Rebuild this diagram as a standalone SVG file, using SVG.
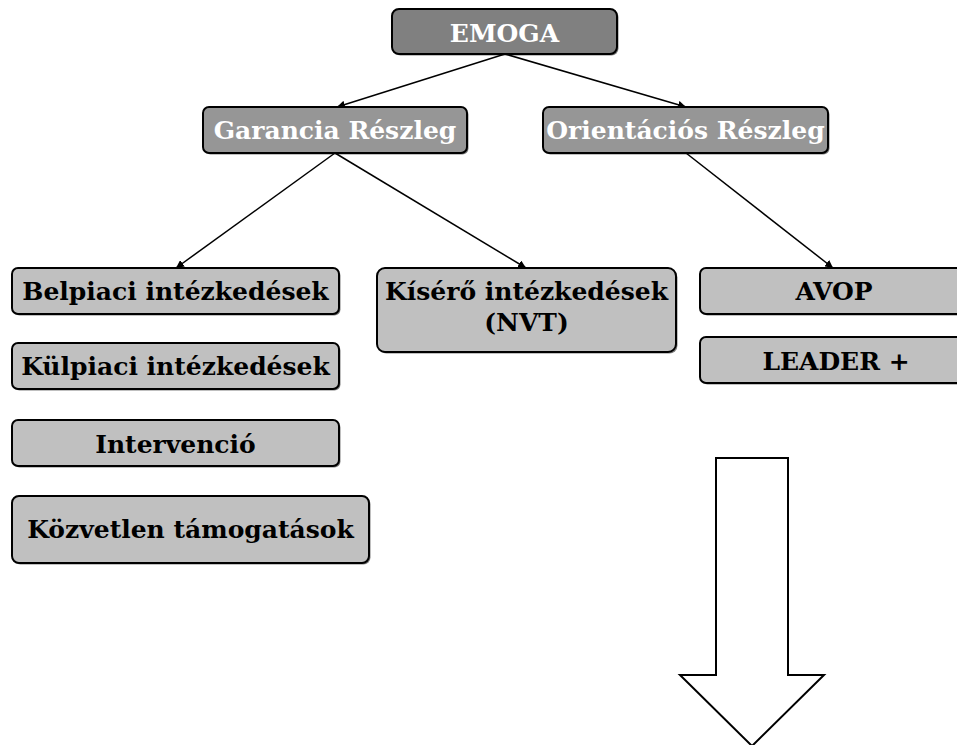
<svg xmlns="http://www.w3.org/2000/svg" width="957" height="745" viewBox="0 0 957 745">
  <style>
    .box { stroke: #000; stroke-width: 2; }
    .top { fill: #808080; }
    .mid { fill: #969696; }
    .leaf { fill: #c0c0c0; }
    .shadow { fill: #000; opacity: 0.5; }
    text { font-family: "DejaVu Serif", "Liberation Serif", serif; font-weight: bold; font-size: 25px; text-anchor: middle; }
    .light { fill: #fff; }
    .dark { fill: #000; }
    .edge { stroke: #000; stroke-width: 1.5; fill: none; marker-end: url(#tip); }
  </style>
  <defs>
    <marker id="tip" viewBox="0 0 10 10" refX="10" refY="5" markerWidth="8" markerHeight="8" markerUnits="userSpaceOnUse" orient="auto">
      <path d="M0,0 L10,5 L0,10 z" fill="#000"/>
    </marker>
  </defs>
  <rect width="957" height="745" fill="#fff"/>

  <g id="connectors">
    <line class="edge" x1="505" y1="54" x2="337" y2="107"/>
    <line class="edge" x1="505" y1="54" x2="686" y2="107"/>
    <line class="edge" x1="335" y1="153" x2="176" y2="268"/>
    <line class="edge" x1="335" y1="153" x2="526" y2="268"/>
    <line class="edge" x1="686" y1="153" x2="833" y2="268"/>
  </g>

  <g id="emoga">
    <rect class="shadow" x="393.5" y="10.5" width="225" height="45" rx="7"/>
    <rect class="box top" x="392" y="9" width="225" height="45" rx="7"/>
    <text class="light" x="504.5" y="42">EMOGA</text>
  </g>
  <g id="garancia">
    <rect class="shadow" x="204.5" y="108.5" width="264" height="46" rx="6"/>
    <rect class="box mid" x="203" y="107" width="264" height="46" rx="6"/>
    <text class="light" x="335" y="139">Garancia Részleg</text>
  </g>
  <g id="orientacios">
    <rect class="shadow" x="544.5" y="108.5" width="285" height="46" rx="6"/>
    <rect class="box mid" x="543" y="107" width="285" height="46" rx="6"/>
    <text class="light" x="685.5" y="139">Orientációs Részleg</text>
  </g>

  <g id="belpiaci">
    <rect class="shadow" x="13.5" y="269.5" width="327" height="46" rx="6"/>
    <rect class="box leaf" x="12" y="268" width="327" height="46" rx="6"/>
    <text class="dark" x="175.5" y="300">Belpiaci intézkedések</text>
  </g>
  <g id="kulpiaci">
    <rect class="shadow" x="13.5" y="344.5" width="327" height="46" rx="6"/>
    <rect class="box leaf" x="12" y="343" width="327" height="46" rx="6"/>
    <text class="dark" x="175.5" y="375">Külpiaci intézkedések</text>
  </g>
  <g id="intervencio">
    <rect class="shadow" x="13.5" y="421.5" width="327" height="46" rx="6"/>
    <rect class="box leaf" x="12" y="420" width="327" height="46" rx="6"/>
    <text class="dark" x="175.5" y="453">Intervenció</text>
  </g>
  <g id="kozvetlen">
    <rect class="shadow" x="13.5" y="497.5" width="357" height="67" rx="7"/>
    <rect class="box leaf" x="12" y="496" width="357" height="67" rx="7"/>
    <text class="dark" x="190.5" y="538">Közvetlen támogatások</text>
  </g>
  <g id="kisero">
    <rect class="shadow" x="378.5" y="269.5" width="299" height="84" rx="8"/>
    <rect class="box leaf" x="377" y="268" width="299" height="84" rx="8"/>
    <text class="dark" x="526.5" y="300">Kísérő intézkedések</text>
    <text class="dark" x="526.5" y="331">(NVT)</text>
  </g>
  <g id="avop">
    <rect class="shadow" x="701.5" y="269.5" width="270" height="46" rx="6"/>
    <rect class="box leaf" x="700" y="268" width="270" height="46" rx="6"/>
    <text class="dark" x="834" y="300">AVOP</text>
  </g>
  <g id="leader">
    <rect class="shadow" x="701.5" y="338.5" width="270" height="46" rx="6"/>
    <rect class="box leaf" x="700" y="337" width="270" height="46" rx="6"/>
    <text class="dark" x="836" y="370">LEADER +</text>
  </g>

  <g id="down-arrow">
    <path d="M716,458 L788,458 L788,675 L824,675 L752,746 L680,675 L716,675 Z" fill="#fff" stroke="#000" stroke-width="2" stroke-linejoin="miter"/>
  </g>
</svg>
